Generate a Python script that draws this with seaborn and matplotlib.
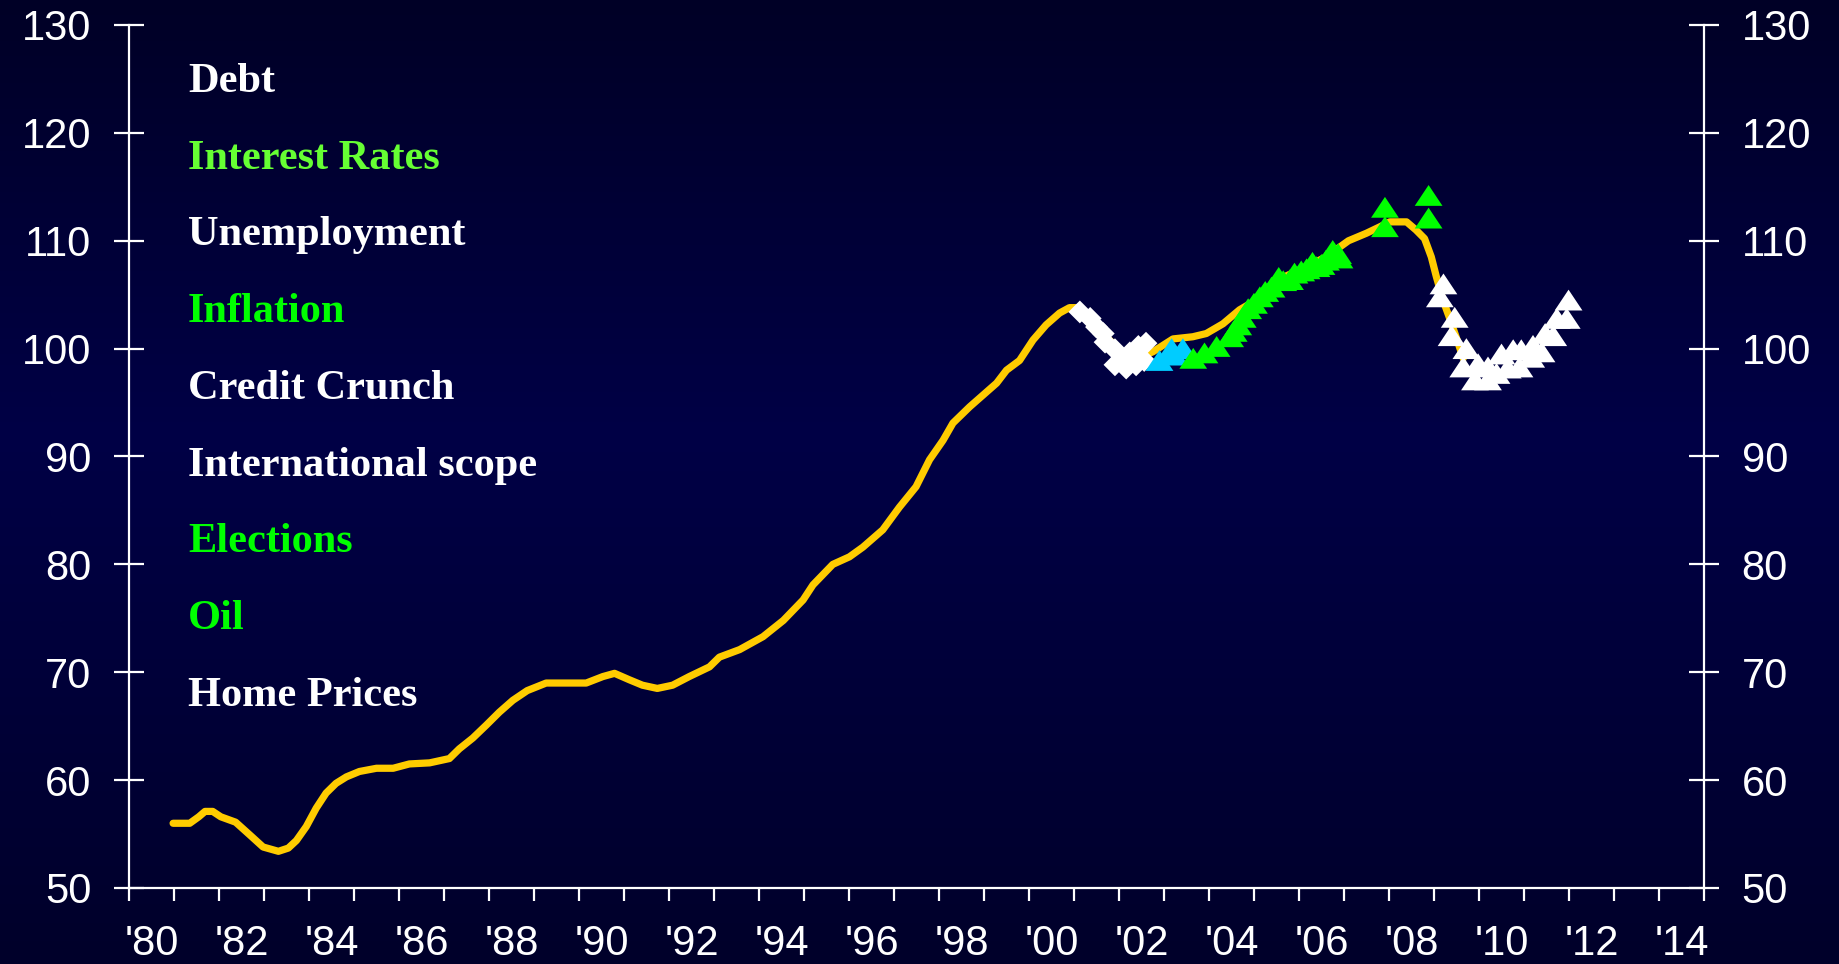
import numpy as np
import pandas as pd
import matplotlib
matplotlib.use("Agg")
import matplotlib.pyplot as plt
from matplotlib.colors import LinearSegmentedColormap
import seaborn as sns

# ---- index level (1980-2009) ----
years = [1980.98, 1981.35, 1981.55, 1981.69, 1981.86, 1982.04, 1982.37, 1982.69, 1982.98,
         1983.32, 1983.54, 1983.72, 1983.94, 1984.16, 1984.38, 1984.6, 1984.83, 1985.12,
         1985.5, 1985.87, 1986.23, 1986.68, 1987.12, 1987.34, 1987.64, 1987.94, 1988.23,
         1988.53, 1988.85, 1989.27, 1989.79, 1990.16, 1990.53, 1990.79, 1991.12, 1991.41,
         1991.74, 1992.08, 1992.45, 1992.9, 1993.12, 1993.57, 1994.09, 1994.54, 1994.98,
         1995.2, 1995.64, 1996.01, 1996.31, 1996.75, 1997.12, 1997.49, 1997.79, 1998.09,
         1998.31, 1998.68, 1999.28, 1999.5, 1999.79, 2000.09, 2000.38, 2000.68, 2000.9,
         2001.13, 2001.5, 2001.86, 2002.16, 2002.45, 2002.75, 2003.05, 2003.2, 2003.64,
         2003.94, 2004.31, 2004.68, 2005.05, 2005.49, 2006.01, 2006.6, 2007.1, 2007.5,
         2007.8, 2008.02, 2008.39, 2008.6, 2008.79, 2008.94, 2009.05, 2009.2, 2009.34,
         2009.49, 2009.65]
index_values = [56.0, 56.0, 56.6, 57.1, 57.1, 56.6, 56.1, 54.9, 53.8,
                53.4, 53.7, 54.4, 55.7, 57.4, 58.8, 59.7, 60.3, 60.8,
                61.1, 61.1, 61.5, 61.6, 62.0, 62.9, 63.9, 65.1, 66.3,
                67.4, 68.3, 69.0, 69.0, 69.0, 69.6, 69.9, 69.3, 68.8,
                68.5, 68.8, 69.6, 70.5, 71.4, 72.1, 73.3, 74.8, 76.7,
                78.1, 80.0, 80.7, 81.6, 83.2, 85.3, 87.2, 89.7, 91.5,
                93.1, 94.6, 96.8, 98.0, 98.9, 100.8, 102.2, 103.3, 103.8,
                103.8, 102.0, 100.5, 99.1, 99.2, 99.7, 100.5, 100.9, 101.1,
                101.4, 102.3, 103.6, 104.5, 106.3, 107.3, 108.5, 110.0, 110.7,
                111.3, 111.75, 111.75, 111.0, 110.2, 108.5, 106.7, 104.5, 102.9,
                101.1, 99.1]

# ---- event markers ----
diamond_years = [2001.13, 2001.36, 2001.5, 2001.65, 2001.69, 2001.91, 2002.06, 2001.91,
                 2002.16, 2002.24, 2002.43, 2002.6, 2002.38, 2002.56]
diamond_values = [103.4, 102.8, 102.0, 101.4, 100.6, 99.9, 99.1, 98.5,
                  98.2, 99.6, 100.2, 100.5, 98.5, 98.9]

cyan_years = [2002.9, 2003.17, 2003.42, 2003.23]
cyan_values = [98.9, 100.0, 100.0, 99.4]

green_years = [2003.65, 2003.9, 2004.17, 2004.47, 2004.55, 2004.65, 2004.75, 2004.87,
               2005.0, 2005.13, 2005.25, 2005.39, 2005.55, 2005.65, 2005.8, 2005.9,
               2006.05, 2006.17, 2006.3, 2006.39, 2006.5, 2006.6, 2006.75, 2006.87,
               2006.9, 2007.91, 2007.91, 2008.88, 2008.88]
green_values = [99.1, 99.6, 100.2, 101.1, 101.6, 102.2, 102.9, 103.7,
                104.2, 104.8, 105.3, 105.7, 106.6, 106.3, 106.4, 107.0,
                107.2, 107.4, 108.0, 107.6, 107.8, 108.2, 109.1, 108.8,
                108.4, 113.1, 111.3, 114.2, 112.1]

white_tri_years = [2009.21, 2009.13, 2009.46, 2009.39, 2009.72, 2009.65, 2009.98, 2009.91,
                   2010.2, 2010.2, 2010.39, 2010.5, 2010.64, 2010.76, 2010.9, 2010.94,
                   2011.16, 2011.2, 2011.39, 2011.47, 2011.65, 2011.73, 2011.95, 2011.99]
white_tri_values = [106.0, 104.8, 102.9, 101.2, 100.0, 98.3, 98.6, 97.1,
                    98.3, 97.1, 97.7, 99.5, 98.2, 99.9, 98.3, 99.9,
                    99.2, 100.3, 99.7, 101.4, 101.2, 102.8, 102.8, 104.5]

factor_labels = ["Debt", "Interest Rates", "Unemployment", "Inflation", "Credit Crunch",
                 "International scope", "Elections", "Oil", "Home Prices"]
factor_colors = ["#FFFFFF", "#66FF33", "#FFFFFF", "#00FF00", "#FFFFFF",
                 "#FFFFFF", "#00FF00", "#00FF00", "#FFFFFF"]

year_ticks = list(range(1980, 2016))
label_years = list(range(1980, 2015, 2))
year_labels = ["'" + str(y)[2:] for y in label_years]
value_ticks = list(range(50, 131, 10))

# ---- styling ----
sns.set_style("ticks")
plt.rcParams["font.family"] = ["Liberation Sans", "DejaVu Sans"]

W, H = 1839, 964
fig = plt.figure(figsize=(W / 100, H / 100), dpi=100)
fig.patch.set_facecolor("#000030")

# vertical navy gradient backdrop
bg = fig.add_axes([0, 0, 1, 1], zorder=-10)
cmap = LinearSegmentedColormap.from_list(
    "navy", [(0.0, "#000026"), (0.45, "#000046"), (1.0, "#00002A")])
grad = np.linspace(0, 1, 256).reshape(-1, 1)
bg.imshow(grad, aspect="auto", cmap=cmap, extent=[0, 1, 0, 1], origin="upper")
bg.axis("off")

ax = fig.add_axes([129 / W, 1 - 888 / H, (1704 - 129) / W, (888 - 25) / H])
ax.set_facecolor("none")

line_df = pd.DataFrame({"year": years, "value": index_values})
sns.lineplot(data=line_df, x="year", y="value", ax=ax, color="#FFCC00", linewidth=5.2,
             sort=False, estimator=None, solid_capstyle="round", solid_joinstyle="round",
             zorder=3)

tri = [(-1.0, -0.75), (1.0, -0.75), (0.0, 0.75)]
dia = [(0.0, 1.0), (1.0, 0.0), (0.0, -1.0), (-1.0, 0.0)]

sns.scatterplot(x=diamond_years, y=diamond_values, ax=ax, marker=dia, s=270,
                color="#FFFFFF", edgecolor="none", linewidth=0, zorder=4)
sns.scatterplot(x=cyan_years, y=cyan_values, ax=ax, marker=tri, s=400,
                color="#00CCFF", edgecolor="none", linewidth=0, zorder=4)
sns.scatterplot(x=green_years, y=green_values, ax=ax, marker=tri, s=400,
                color="#00FF00", edgecolor="none", linewidth=0, zorder=4)
sns.scatterplot(x=white_tri_years, y=white_tri_values, ax=ax, marker=tri, s=400,
                color="#FFFFFF", edgecolor="none", linewidth=0, zorder=4)

ax.set_xlim(1980, 2015)
ax.set_ylim(50, 130)
ax.set_xlabel("")
ax.set_ylabel("")

for side in ["left", "right", "bottom"]:
    ax.spines[side].set_color("white")
    ax.spines[side].set_linewidth(1.6)
ax.spines["top"].set_visible(False)

ax.set_yticks(value_ticks)
ax.set_yticklabels([str(v) for v in value_ticks])
ax.tick_params(axis="y", which="major", direction="inout", length=22, width=1.6,
               color="white", labelcolor="white", labelsize=30, pad=16,
               left=True, right=True, labelleft=True, labelright=True)

ax.set_xticks(year_ticks)
ax.set_xticklabels([""] * len(year_ticks))
ax.set_xticks([y + 0.5 for y in label_years], minor=True)
ax.set_xticklabels(year_labels, minor=True)
ax.tick_params(axis="x", which="major", direction="out", length=9, width=1.6,
               color="white")
ax.tick_params(axis="x", which="minor", length=0, labelcolor="white",
               labelsize=30, pad=26)

# factor list in the upper-left corner
baselines = [91.5, 168.9, 245.1, 322.5, 398.8, 476.2, 552.4, 628.6, 706.0]
for text, color, b in zip(factor_labels, factor_colors, baselines):
    fig.text(188 / W, 1 - b / H, text, color=color, fontsize=30.5, fontweight="bold",
             family=["Liberation Serif", "DejaVu Serif"], va="baseline", ha="left")

fig.savefig("out.png", dpi=100, facecolor=fig.get_facecolor())
